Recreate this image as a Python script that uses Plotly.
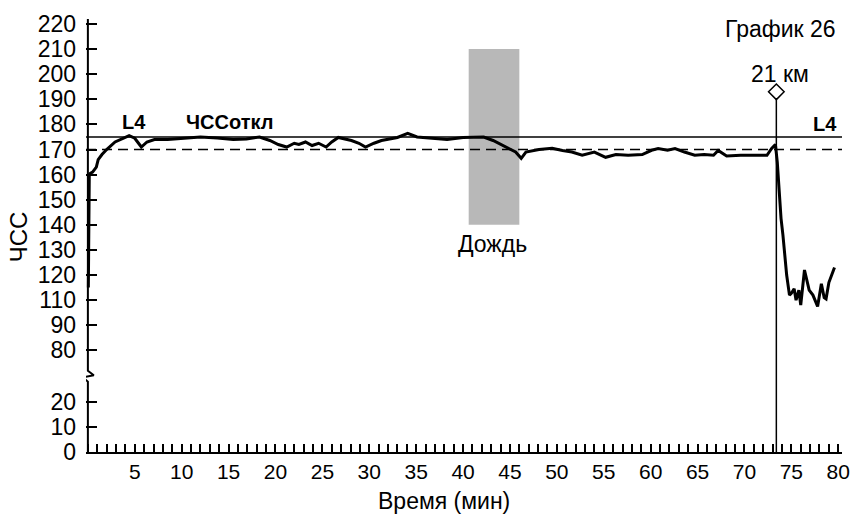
import numpy as np
import plotly.graph_objects as go

# ---------------- data ----------------
time_min = [0.05, 0.1, 0.15, 0.25, 0.5, 0.9, 1.1, 1.5, 2.0, 2.9,
            3.5, 4.4, 5.0, 5.7, 6.3, 7.1, 8.5, 10.7, 12.0, 13.8,
            15.5, 16.9, 18.3, 19.4, 20.3, 21.2, 22.0, 22.5, 23.2, 23.9,
            24.6, 25.4, 26.0, 26.7, 28.1, 28.9, 29.6, 30.5, 31.3, 33.0,
            34.1, 35.1, 36.5, 38.3, 40.0, 42.2, 43.2, 44.6, 45.6, 46.2,
            46.7, 48.1, 49.5, 50.6, 51.6, 52.7, 54.0, 55.2, 56.3, 57.6,
            59.1, 60.1, 60.8, 61.8, 62.6, 63.6, 64.7, 65.7, 66.7, 67.2,
            68.1, 69.6, 71.0, 72.4, 72.9, 73.3, 73.5, 73.7, 73.9, 74.1,
            74.5, 74.8, 75.0, 75.3, 75.5, 75.8, 76.0, 76.4, 76.9, 77.3,
            77.8, 78.2, 78.5, 78.7, 79.0, 79.6]
hr = [115, 140, 160, 160.5, 161, 163, 166, 168, 170, 173,
      174, 175.5, 174.5, 171, 173, 174, 174, 174.6, 175, 174.6,
      174, 174.2, 175, 173.6, 172, 171, 172.5, 172, 173, 171.6,
      172.5, 171, 173, 174.8, 173.6, 172.5, 171, 172.5, 173.6, 174.8,
      176.4, 175, 174.5, 174, 174.8, 175, 173.6, 171, 169, 166.5,
      169, 170, 170.5, 169.6, 169, 167.7, 169, 166.9, 168, 167.7,
      168, 169.7, 170.4, 169.7, 170.4, 169, 167.7, 168, 167.7, 169.6,
      167.4, 167.7, 167.7, 167.7, 170.4, 172, 165, 152, 142.6, 136,
      120, 112, 112.7, 114.5, 110, 114, 106, 122, 114, 112,
      105, 116.5, 111, 110.5, 117, 123]

# printed tick labels (the axis is broken between 20 and 80; 100 is not printed)
tick_labels = [0, 10, 20, 80, 90, 110, 120, 130, 140, 150, 160, 170, 180, 190, 200, 210, 220]
tick_pos = [0, 1, 2, 4.05, 5.05, 6.05, 7.05, 8.05, 9.05, 10.05, 11.05, 12.05,
            13.05, 14.05, 15.05, 16.05, 17.05]
x_ticks = list(range(5, 81, 5))

l4_level = 175
hr_dev_level = 170
rain_start, rain_end = 40.6, 46.0
rain_low, rain_high = 140, 210
km_time = 73.4
km_marker_hr = 193
km_line_top_hr = 190.5


def ymap(v):
    return np.interp(v, tick_labels, tick_pos)


FONT = "Liberation Sans, Arial, sans-serif"
X_MIN = -0.2
X_MAX = 80.4
Y_MAX = 17.25
PLOT_W = 764

fig = go.Figure()

# rain band
fig.add_shape(type="rect", x0=rain_start, x1=rain_end,
              y0=float(ymap(rain_low)), y1=float(ymap(rain_high)),
              xref="x", yref="y", fillcolor="#b8b8b8", line_width=0, layer="below")

# L4 line & HR deviation line
fig.add_shape(type="line", xref="paper", x0=0, x1=1, yref="y",
              y0=float(ymap(l4_level)), y1=float(ymap(l4_level)),
              line=dict(color="black", width=1.5))
fig.add_shape(type="line", xref="paper", x0=0, x1=1, yref="y",
              y0=float(ymap(hr_dev_level)), y1=float(ymap(hr_dev_level)),
              line=dict(color="black", width=1.5, dash="10px,6px"))

# broken y axis line (manual)
px = (X_MAX - X_MIN) / PLOT_W  # one pixel in minutes
yu = 1 / 25.35  # one pixel in axis units
brk_top = (452 - 370) * yu
fig.add_trace(go.Scatter(
    x=[0, 0, 6 * px, -5 * px, 0, 0],
    y=[Y_MAX, brk_top, (452 - 374.5) * yu, (452 - 376.5) * yu, (452 - 381) * yu, 0],
    mode="lines", line=dict(color="black", width=2), hoverinfo="skip",
    showlegend=False, cliponaxis=False))

# heart rate trace
fig.add_trace(go.Scatter(x=time_min, y=ymap(hr), mode="lines",
                         line=dict(color="black", width=3), showlegend=False))

# 21 km marker
fig.add_trace(go.Scatter(x=[km_time, km_time], y=[0, float(ymap(km_line_top_hr))],
                         mode="lines", line=dict(color="black", width=1.5), showlegend=False))
fig.add_trace(go.Scatter(x=[km_time], y=[float(ymap(km_marker_hr))], mode="markers",
                         marker=dict(symbol="diamond-open", size=12, color="black",
                                     line=dict(width=1.5, color="black")),
                         showlegend=False))


def pxx(p):
    return (p - 86) / PLOT_W


def pyy(p):
    return (452 - p) / (Y_MAX * 25.35)


ann = [
    dict(text="ЧСС", x=pxx(17.5), y=pyy(235), textangle=-90, size=24, bold=False),
    dict(text="Время (мин)", x=pxx(448), y=pyy(501), size=23, bold=False),
    dict(text="График 26", x=pxx(788), y=pyy(25), size=23, bold=False),
    dict(text="21 км", x=pxx(787), y=pyy(70), size=23, bold=False),
    dict(text="Дождь", x=pxx(497), y=pyy(242), size=23, bold=False),
    dict(text="L4", x=pxx(135), y=pyy(119), size=20, bold=True),
    dict(text="ЧССоткл", x=pxx(231), y=pyy(119), size=20, bold=True),
    dict(text="L4", x=pxx(833), y=pyy(121), size=20, bold=True),
]
for a in ann:
    fig.add_annotation(
        text=("<b>%s</b>" % a["text"]) if a["bold"] else a["text"],
        x=a["x"], y=a["y"], xref="paper", yref="paper",
        xanchor="center", yanchor="middle", showarrow=False,
        textangle=a.get("textangle", 0),
        font=dict(family=FONT, size=a["size"], color="black"))

fig.update_layout(
    width=861, height=514,
    margin=dict(l=86, r=11, t=15, b=62),
    paper_bgcolor="white", plot_bgcolor="white",
    font=dict(family=FONT, color="black"),
    showlegend=False,
    xaxis=dict(range=[X_MIN, X_MAX], showgrid=False, zeroline=False,
               showline=True, linecolor="black", linewidth=2,
               tickmode="array", tickvals=x_ticks, ticktext=[str(v) for v in x_ticks],
               ticks="inside", ticklen=8, tickwidth=1.5, tickcolor="black",
               ticklabelstandoff=0,
               minor=dict(dtick=1, tick0=0, ticks="inside", ticklen=8,
                          tickwidth=1.5, tickcolor="black", showgrid=False),
               tickfont=dict(size=21, family=FONT, color="black")),
    yaxis=dict(range=[0, Y_MAX], showgrid=False, zeroline=False, showline=False,
               tickmode="array", tickvals=tick_pos, ticktext=[str(v) for v in tick_labels],
               ticks="inside", ticklen=11, tickwidth=1.5, tickcolor="black",
               ticklabelstandoff=9,
               tickfont=dict(size=23, family=FONT, color="black")),
)

fig.write_html("out.html")
